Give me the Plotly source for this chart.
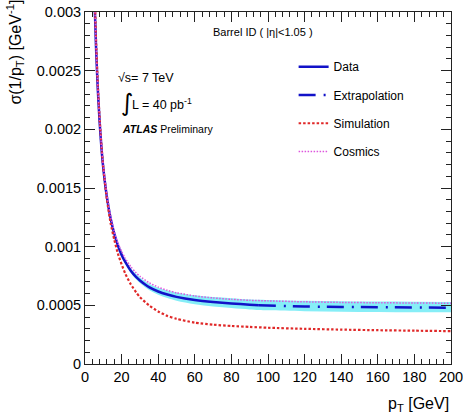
import plotly.graph_objects as go

# ---------------- data ----------------
pt_data = [4, 5, 6, 7, 8, 9, 10, 12, 14, 16, 18, 20, 22, 25, 28, 30, 35, 40, 45, 50, 60, 70, 80, 90, 95]
sigma_data = [0.00403, 0.00324, 0.00271, 0.00234, 0.00206, 0.00184, 0.00167, 0.00142, 0.00124, 0.00111,
              0.00101, 0.00093, 0.00087, 0.000795, 0.00074, 0.000712, 0.000655, 0.000618, 0.000592, 0.000572,
              0.000545, 0.000528, 0.000516, 0.000505, 0.000501]

pt_extrap = [95, 100, 120, 140, 160, 180, 200]
sigma_extrap = [0.000501, 0.000498, 0.00049, 0.000486, 0.000483, 0.000481, 0.00048]

pt_band = [15, 20, 25, 30, 35, 40, 45, 50, 60, 70, 80, 90, 95, 100, 120, 140, 160, 180, 200]
band_lo = [0.00116, 0.00092, 0.000778, 0.00069, 0.00063, 0.00059, 0.000562, 0.00054, 0.00051, 0.00049,
           0.000477, 0.000465, 0.00046, 0.000458, 0.00045, 0.000446, 0.000443, 0.000441, 0.00044]
band_hi = [0.00119, 0.000945, 0.000815, 0.000738, 0.000685, 0.00065, 0.000627, 0.000609, 0.000585, 0.00057,
           0.00056, 0.00055, 0.000547, 0.000545, 0.000538, 0.000534, 0.000532, 0.00053, 0.000529]

pt_sim = [4, 5, 6, 7, 8, 9, 10, 12, 14, 16, 18, 20, 22, 25, 28, 30, 35, 40, 45, 50, 60, 70, 80, 90,
          100, 120, 140, 160, 180, 200]
sigma_sim = [0.00415, 0.00333, 0.00278, 0.00238, 0.00209, 0.00186, 0.00167, 0.0014, 0.0012, 0.00106,
             0.00094, 0.00085, 0.00077, 0.00068, 0.00061, 0.00057, 0.0005, 0.000448, 0.00041, 0.000385,
             0.000352, 0.000335, 0.000324, 0.000316, 0.000309, 0.0003, 0.000293, 0.000288, 0.000284, 0.00028]

pt_cos = pt_sim
sigma_cos = [0.00405, 0.00326, 0.00273, 0.00236, 0.00208, 0.00186, 0.00169, 0.00144, 0.00126, 0.00113,
             0.00103, 0.00096, 0.0009, 0.00083, 0.000775, 0.000748, 0.000693, 0.000655, 0.000628, 0.000607,
             0.00058, 0.000563, 0.000551, 0.000543, 0.000538, 0.00053, 0.000525, 0.000522, 0.00052, 0.000518]

x_ticks = [0, 20, 40, 60, 80, 100, 120, 140, 160, 180, 200]
y_ticks = [0, 0.0005, 0.001, 0.0015, 0.002, 0.0025, 0.003]
y_ticktext = ["0", "0.0005", "0.001", "0.0015", "0.002", "0.0025", "0.003"]

FONT = "Liberation Sans, Arial, Helvetica, sans-serif"
BLUE = "#1212c8"
CYAN = "#86eef7"

fig = go.Figure()

# uncertainty band
fig.add_trace(go.Scatter(x=pt_band, y=band_lo, mode="lines", line=dict(width=0, color=CYAN, shape="spline"),
                         showlegend=False, hoverinfo="skip"))
fig.add_trace(go.Scatter(x=pt_band, y=band_hi, mode="lines", line=dict(width=0, color=CYAN, shape="spline"),
                         fill="tonexty", fillcolor=CYAN, showlegend=False, hoverinfo="skip"))

fig.add_trace(go.Scatter(x=pt_data, y=sigma_data, mode="lines", name="Data",
                         line=dict(color=BLUE, width=2.5, shape="spline", smoothing=0.6), legendgroup="a"))
fig.add_trace(go.Scatter(x=pt_extrap, y=sigma_extrap, mode="lines", name="Extrapolation",
                         line=dict(color=BLUE, width=2.5, dash="17px,8px,2px,7px"), legendgroup="b"))
fig.add_trace(go.Scatter(x=pt_sim, y=sigma_sim, mode="lines", name="Simulation",
                         line=dict(color="#e02828", width=2.2, dash="2.5px,2px", shape="spline", smoothing=0.6),
                         legendgroup="c"))
fig.add_trace(go.Scatter(x=pt_cos, y=sigma_cos, mode="lines", name="Cosmics",
                         line=dict(color="#dd55dd", width=1.5, dash="1.5px,1.5px", shape="spline", smoothing=0.6),
                         legendgroup="d"))

axis_common = dict(
    showline=True, linecolor="#222222", linewidth=1, mirror="ticks",
    ticks="inside", ticklen=10, tickcolor="#222222", tickwidth=1,
    showgrid=False, zeroline=False, automargin=False, ticklabeloverflow="allow",
    tickfont=dict(family=FONT, size=14.5, color="black"),
)

fig.update_xaxes(range=[0, 200], tickvals=x_ticks, ticktext=[str(v) for v in x_ticks],
                 minor=dict(ticks="inside", ticklen=5, dtick=4, tickcolor="#222222", showgrid=False),
                 **axis_common)
fig.update_yaxes(range=[0, 0.003], tickvals=y_ticks, ticktext=y_ticktext,
                 minor=dict(ticks="inside", ticklen=5, dtick=0.0001, tickcolor="#222222", showgrid=False),
                 **axis_common)

fig.update_layout(
    width=463, height=414,
    margin=dict(l=85, r=12, t=12, b=50, autoexpand=False),
    paper_bgcolor="white", plot_bgcolor="white",
    font=dict(family=FONT, color="black"),
    showlegend=True,
    legend=dict(x=0.57, y=0.886, xanchor="left", yanchor="top", bgcolor="rgba(0,0,0,0)",
                font=dict(family=FONT, size=12, color="black"),
                traceorder="grouped", tracegroupgap=9.3, itemwidth=30),
    annotations=[
        dict(text="σ(1/p<sub>T</sub>) [GeV<sup>-1</sup>]", xref="paper", yref="paper",
             x=-0.19, y=0.886, textangle=-90, showarrow=False, font=dict(size=16, family=FONT),
             xanchor="center", yanchor="middle"),
        dict(text="p<sub>T</sub> [GeV]", xref="paper", yref="paper", x=1.0, y=-0.082,
             showarrow=False, font=dict(size=16, family=FONT), xanchor="right", yanchor="top"),
        dict(text="Barrel ID ( |η|<1.05 )", xref="paper", yref="paper", x=0.486, y=0.943,
             showarrow=False, font=dict(size=11, family=FONT), xanchor="center", yanchor="middle"),
        dict(text="√s= 7 TeV", xref="paper", yref="paper", x=0.085, y=0.812,
             showarrow=False, font=dict(size=12.5, family=FONT), xanchor="left", yanchor="middle"),
        dict(text="∫", xref="paper", yref="paper", x=0.092, y=0.742,
             showarrow=False, font=dict(size=24, family="DejaVu Sans"), xanchor="left", yanchor="middle"),
        dict(text="L = 40 pb<sup>-1</sup>", xref="paper", yref="paper", x=0.123, y=0.738,
             showarrow=False, font=dict(size=12.5, family=FONT), xanchor="left", yanchor="middle"),
        dict(text="<b><i>ATLAS</i></b> Preliminary", xref="paper", yref="paper", x=0.095, y=0.668,
             showarrow=False, font=dict(size=10.5, family=FONT), xanchor="left", yanchor="middle"),
    ],
)

fig.write_html("out.html", config={"displayModeBar": False},
               post_script="document.body.style.margin='0px';document.body.style.overflow='hidden';")
